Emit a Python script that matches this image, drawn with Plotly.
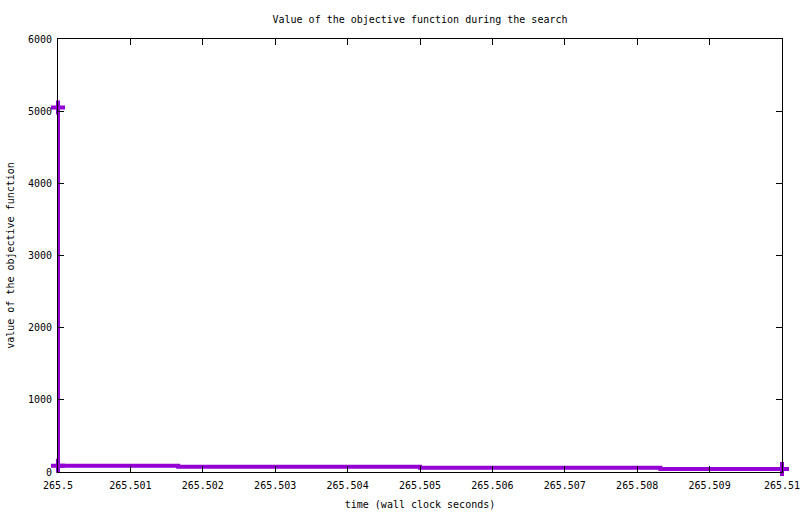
import plotly.graph_objects as go

# search trace: wall clock time vs objective value (step plot)
times = [265.5, 265.5, 265.50166, 265.505, 265.50832, 265.51]
values = [5050, 88, 72, 58, 42, 42]

# points that carry a marker in the reference
mark_times = [265.5, 265.5, 265.51]
mark_values = [5050, 88, 42]

x_ticks = [265.5, 265.501, 265.502, 265.503, 265.504, 265.505,
           265.506, 265.507, 265.508, 265.509, 265.51]
x_labels = ["265.5", "265.501", "265.502", "265.503", "265.504", "265.505",
            "265.506", "265.507", "265.508", "265.509", "265.51"]
y_ticks = [0, 1000, 2000, 3000, 4000, 5000, 6000]

purple = "#9400d3"
font = "DejaVu Sans Mono"

fig = go.Figure()
fig.add_trace(go.Scatter(x=times, y=values, mode="lines",
                         line=dict(color=purple, width=4, shape="hv"),
                         cliponaxis=False, showlegend=False))
fig.add_trace(go.Scatter(x=mark_times, y=mark_values, mode="markers",
                         marker=dict(symbol="cross-thin-open", size=10, color=purple,
                                     line=dict(color=purple, width=4)),
                         cliponaxis=False, showlegend=False))

fig.update_layout(
    width=800, height=514,
    margin=dict(l=58, r=18, t=39, b=42),
    paper_bgcolor="white", plot_bgcolor="white",
    font=dict(family=font, size=10, color="black"),
    title=dict(text="Value of the objective function during the search",
               x=0.525, xanchor="center", y=0.963, yanchor="middle",
               font=dict(family=font, size=10)),
)
fig.update_xaxes(range=[265.4999999, 265.5100001], tickvals=x_ticks, ticktext=x_labels,
                 showline=True, linecolor="black", linewidth=1, mirror="ticks",
                 ticks="inside", ticklen=6, tickcolor="black",
                 showgrid=False, zeroline=False, automargin=False,
                 ticklabeloverflow="allow", ticklabelstandoff=4,
                 tickfont=dict(size=10),
                 title=dict(text="time (wall clock seconds)", standoff=10,
                            font=dict(size=10)))
fig.update_yaxes(range=[0, 6000], tickvals=y_ticks,
                 showline=True, linecolor="black", linewidth=1, mirror="ticks",
                 ticks="inside", ticklen=6, tickcolor="black",
                 showgrid=False, zeroline=False, automargin=False,
                 ticklabeloverflow="allow", ticklabelstandoff=3,
                 tickfont=dict(size=10),
                 title=dict(text="value of the objective function", standoff=11,
                            font=dict(size=10)))

fig.write_html("out.html", config={"displayModeBar": False})

# drop the default page margin so the figure sits at the window corner
with open("out.html") as f:
    page = f.read()
page = page.replace("<head>", "<head><style>body{margin:0;}</style>", 1)
with open("out.html", "w") as f:
    f.write(page)
